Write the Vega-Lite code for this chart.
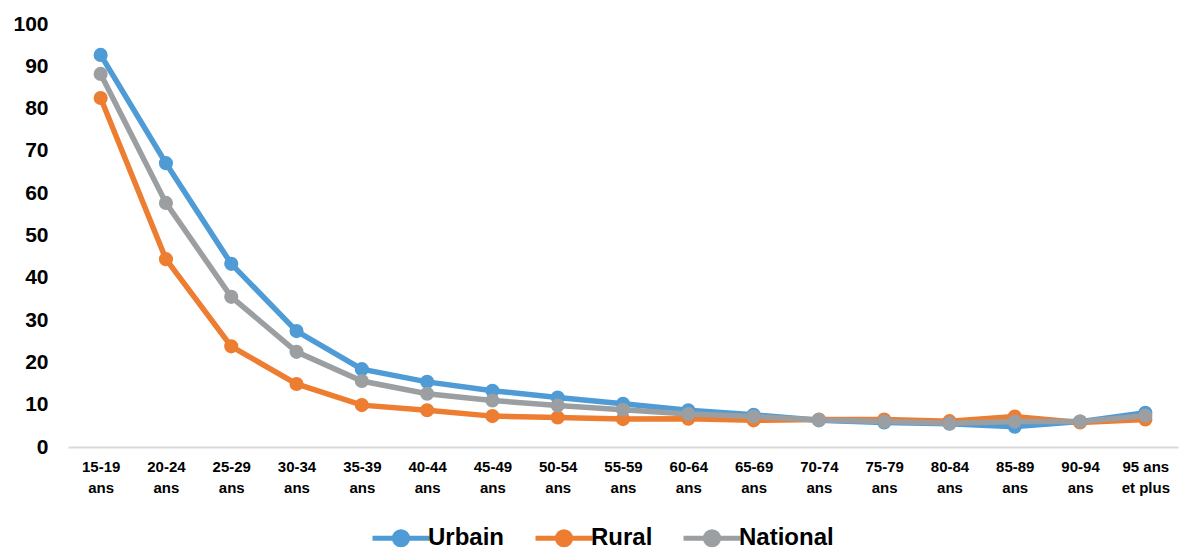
{
  "$schema": "https://vega.github.io/schema/vega-lite/v6.json",
  "autosize": "none",
  "width": 1110,
  "height": 423,
  "padding": {"left": 68, "top": 24, "right": 1, "bottom": 102},
  "background": "white",
  "config": {
    "view": {"stroke": null},
    "font": "Liberation Sans"
  },
  "data": {
    "values": [
      {"age": "15-19 ans", "serie": "Urbain", "v": 92.7},
      {"age": "20-24 ans", "serie": "Urbain", "v": 67.1},
      {"age": "25-29 ans", "serie": "Urbain", "v": 43.3},
      {"age": "30-34 ans", "serie": "Urbain", "v": 27.4},
      {"age": "35-39 ans", "serie": "Urbain", "v": 18.4},
      {"age": "40-44 ans", "serie": "Urbain", "v": 15.4},
      {"age": "45-49 ans", "serie": "Urbain", "v": 13.3},
      {"age": "50-54 ans", "serie": "Urbain", "v": 11.7},
      {"age": "55-59 ans", "serie": "Urbain", "v": 10.2},
      {"age": "60-64 ans", "serie": "Urbain", "v": 8.7},
      {"age": "65-69 ans", "serie": "Urbain", "v": 7.6},
      {"age": "70-74 ans", "serie": "Urbain", "v": 6.3},
      {"age": "75-79 ans", "serie": "Urbain", "v": 5.8},
      {"age": "80-84 ans", "serie": "Urbain", "v": 5.5},
      {"age": "85-89 ans", "serie": "Urbain", "v": 4.8},
      {"age": "90-94 ans", "serie": "Urbain", "v": 6.0},
      {"age": "95 ans et plus", "serie": "Urbain", "v": 8.1},
      {"age": "15-19 ans", "serie": "Rural", "v": 82.5},
      {"age": "20-24 ans", "serie": "Rural", "v": 44.4},
      {"age": "25-29 ans", "serie": "Rural", "v": 23.8},
      {"age": "30-34 ans", "serie": "Rural", "v": 14.9},
      {"age": "35-39 ans", "serie": "Rural", "v": 9.9},
      {"age": "40-44 ans", "serie": "Rural", "v": 8.7},
      {"age": "45-49 ans", "serie": "Rural", "v": 7.3},
      {"age": "50-54 ans", "serie": "Rural", "v": 7.0},
      {"age": "55-59 ans", "serie": "Rural", "v": 6.6},
      {"age": "60-64 ans", "serie": "Rural", "v": 6.7},
      {"age": "65-69 ans", "serie": "Rural", "v": 6.3},
      {"age": "70-74 ans", "serie": "Rural", "v": 6.5},
      {"age": "75-79 ans", "serie": "Rural", "v": 6.5},
      {"age": "80-84 ans", "serie": "Rural", "v": 6.1},
      {"age": "85-89 ans", "serie": "Rural", "v": 7.2},
      {"age": "90-94 ans", "serie": "Rural", "v": 5.8},
      {"age": "95 ans et plus", "serie": "Rural", "v": 6.5},
      {"age": "15-19 ans", "serie": "National", "v": 88.2},
      {"age": "20-24 ans", "serie": "National", "v": 57.7},
      {"age": "25-29 ans", "serie": "National", "v": 35.5},
      {"age": "30-34 ans", "serie": "National", "v": 22.5},
      {"age": "35-39 ans", "serie": "National", "v": 15.6},
      {"age": "40-44 ans", "serie": "National", "v": 12.6},
      {"age": "45-49 ans", "serie": "National", "v": 11.0},
      {"age": "50-54 ans", "serie": "National", "v": 9.8},
      {"age": "55-59 ans", "serie": "National", "v": 8.8},
      {"age": "60-64 ans", "serie": "National", "v": 7.8},
      {"age": "65-69 ans", "serie": "National", "v": 7.2},
      {"age": "70-74 ans", "serie": "National", "v": 6.4},
      {"age": "75-79 ans", "serie": "National", "v": 6.0},
      {"age": "80-84 ans", "serie": "National", "v": 5.6},
      {"age": "85-89 ans", "serie": "National", "v": 6.0},
      {"age": "90-94 ans", "serie": "National", "v": 6.0},
      {"age": "95 ans et plus", "serie": "National", "v": 7.4}
    ]
  },
  "encoding": {
    "x": {
      "field": "age",
      "type": "ordinal",
      "sort": null,
      "scale": {"type": "point", "padding": 0.5},
      "axis": {
        "title": null,
        "labelAngle": 0,
        "labelExpr": "datum.label == '95 ans et plus' ? ['95 ans', 'et plus'] : split(datum.label, ' ')",
        "labelFont": "Liberation Sans",
        "labelFontWeight": "bold",
        "labelFontSize": 15,
        "labelLineHeight": 21,
        "labelColor": "#000000",
        "labelPadding": 12,
        "ticks": false,
        "domainColor": "#d9d9d9",
        "domainWidth": 2,
        "grid": false
      }
    },
    "y": {
      "field": "v",
      "type": "quantitative",
      "scale": {"domain": [0, 100], "nice": false},
      "axis": {
        "title": null,
        "values": [0, 10, 20, 30, 40, 50, 60, 70, 80, 90, 100],
        "labelFont": "Liberation Sans",
        "labelFontWeight": "bold",
        "labelFontSize": 21,
        "labelColor": "#000000",
        "labelPadding": 20,
        "ticks": false,
        "domain": false,
        "grid": false
      }
    },
    "color": {
      "field": "serie",
      "type": "nominal",
      "sort": ["Urbain", "Rural", "National"],
      "scale": {"domain": ["Urbain", "Rural", "National"], "range": ["#4f9bd6", "#ed7d31", "#9c9fa1"]},
      "legend": {
        "title": null,
        "orient": "none",
        "direction": "horizontal",
        "legendX": 316,
        "legendY": 497,
        "symbolType": "M-2,0L2,0M-0.46,0A0.46,0.46 0 1,1 0.46,0A0.46,0.46 0 1,1 -0.46,0Z",
        "symbolSize": 812,
        "symbolStrokeWidth": 5,
        "labelFont": "Liberation Sans",
        "labelFontWeight": "bold",
        "labelFontSize": 24,
        "labelColor": "#000000",
        "labelOffset": 10,
        "columnPadding": 20
      }
    }
  },
  "layer": [
    {"mark": {"type": "line", "strokeWidth": 5.5}},
    {"mark": {"type": "point", "filled": true, "opacity": 1, "size": 200}}
  ]
}
